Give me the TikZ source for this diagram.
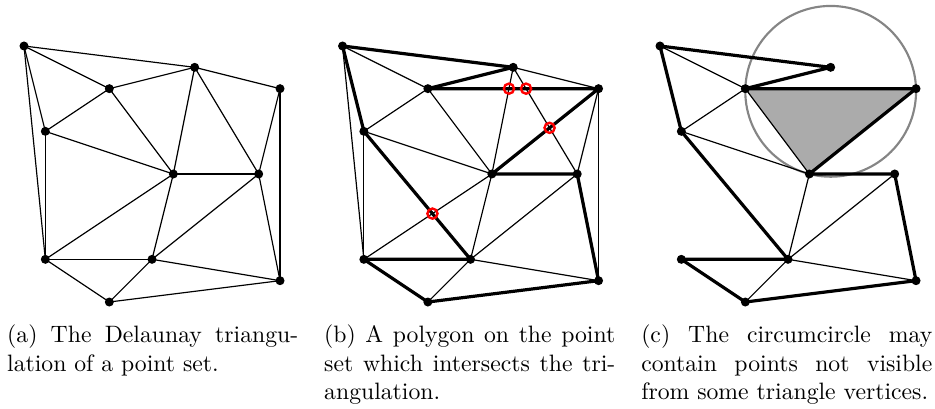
\documentclass[tikz,border=0pt]{standalone}
\usepackage{tikz}
\usetikzlibrary{calc}
\tikzset{
  tri/.style   ={line width=0.5pt},
  poly/.style  ={line width=1.35pt, line join=round},
  hit/.style   ={draw=red, circle, line width=1pt, inner sep=0pt, minimum size=4.3pt},
  ccirc/.style ={draw=black!48, line width=0.9pt},
  shade/.style ={fill=black!33},
  capt/.style  ={anchor=base west, text width=122.8pt, align=justify, inner sep=0pt},
}
% the point set, on a grid, names prefixed by #1
\newcommand{\placepoints}[1]{%
  \coordinate (#1A) at (1,12);
  \coordinate (#1B) at (9,11);
  \coordinate (#1C) at (5,10);
  \coordinate (#1D) at (13,10);
  \coordinate (#1E) at (2,8);
  \coordinate (#1F) at (8,6);
  \coordinate (#1G) at (12,6);
  \coordinate (#1H) at (2,2);
  \coordinate (#1I) at (7,2);
  \coordinate (#1J) at (13,1);
  \coordinate (#1K) at (5,0);
}
\newcommand{\drawdelaunay}[1]{%
  \foreach \u/\v in {A/B, A/C, A/E, A/H, B/C, B/D, B/F, B/G, C/E, C/F, D/G, D/J,
                     E/F, E/H, F/G, F/H, F/I, G/I, G/J, H/I, H/K, I/K, I/J, K/J}
    \draw[tri] (#1\u) -- (#1\v);
}
\newcommand{\drawpolygon}[1]{%
  \draw[poly] (#1A) -- (#1B) -- (#1C) -- (#1D) -- (#1F) -- (#1G) -- (#1J)
              -- (#1K) -- (#1H) -- (#1I) -- (#1E) -- cycle;
}
\newcommand{\drawdots}[1]{%
  \foreach \p in {A,...,K} \fill (#1\p) circle (1.9pt);
}

\begin{document}
\begin{tikzpicture}[x=9pt, y=9pt]
  \useasboundingbox (-0.125,-4.969) rectangle (43.70,14.156);

  % (a) triangulation
  \begin{scope}
    \placepoints{a}
    \drawdelaunay{a}
    \drawdots{a}
  \end{scope}
  \node[capt] (capa) at (0.19,-1.92)
    {(a) The Delaunay triangu-\linebreak lation of a point set.};

  % (b) polygon crossing the triangulation
  \begin{scope}[xshift=14.93*9pt]
    \placepoints{b}
    \drawdelaunay{b}
    \drawpolygon{b}
    \drawdots{b}
    \node[hit] (x1) at (intersection of bC--bD and bB--bF) {};
    \node[hit] (x2) at (intersection of bC--bD and bB--bG) {};
    \node[hit] (x3) at (intersection of bD--bF and bB--bG) {};
    \node[hit] (x4) at (intersection of bI--bE and bF--bH) {};
  \end{scope}
  \node[capt] (capb) at (15.05,-1.92)
    {(b) A polygon on the point\linebreak set which intersects the tri-\linebreak angulation.};

  % (c) circumcircle of one triangle
  \begin{scope}[xshift=29.81*9pt]
    \placepoints{c}
    \coordinate (cM) at (9,9.875);
    \fill[shade] (cC) -- (cD) -- (cF) -- cycle;
    \draw[ccirc] (cM) circle (4.002);
    \foreach \u/\v in {A/C, C/E, E/F, F/I, G/I, I/K, I/J, C/F}
      \draw[tri] (c\u) -- (c\v);
    \drawpolygon{c}
    \drawdots{c}
  \end{scope}
  \node[capt] (capc) at (29.91,-1.92)
    {(c) The circumcircle may\linebreak contain points not visible\linebreak from some triangle vertices.};
\end{tikzpicture}
\end{document}
